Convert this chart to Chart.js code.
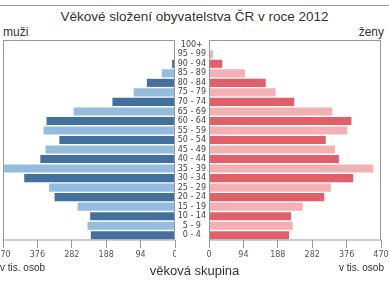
<!DOCTYPE html>
<html>
<head>
<meta charset="utf-8">
<script src="https://cdn.jsdelivr.net/npm/chart.js@4"></script>
<style>
  body { margin: 0; background: #fff; }
  #wrap { position: relative; width: 389px; height: 282px; overflow: hidden;
          font-family: "Liberation Sans", Arial, sans-serif; color: #333; }
  .t { position: absolute; white-space: nowrap; }
  canvas { position: absolute; top: 0; }
</style>
</head>
<body>
<div id="wrap">
  <div style="position:absolute;left:0;top:5px;width:389px;border-top:1px solid #999"></div>
  <div class="t" style="left:0;width:389px;text-align:center;top:9px;font-size:13.5px">Věkové složení obyvatelstva ČR v roce 2012</div>
  <div class="t" style="left:3px;top:25px;font-size:12px">muži</div>
  <div class="t" style="right:5px;top:25px;font-size:12px">ženy</div>
  <canvas id="men" width="176" height="264" style="left:0"></canvas>
  <canvas id="women" width="229" height="264" style="left:160px"></canvas>
  <div class="t" style="left:0;top:262px;font-size:10px">v tis. osob</div>
  <div class="t" style="right:5px;top:262px;font-size:10px">v tis. osob</div>
  <div class="t" style="left:0;width:389px;text-align:center;top:263px;font-size:13px">věková skupina</div>
</div>
<script>
// age groups from youngest (bottom) to oldest (top)
const ageGroups = ['0 - 4', '5 - 9', '10 - 14', '15 - 19', '20 - 24', '25 - 29', '30 - 34',
  '35 - 39', '40 - 44', '45 - 49', '50 - 54', '55 - 59', '60 - 64', '65 - 69', '70 - 74',
  '75 - 79', '80 - 84', '85 - 89', '90 - 94', '95 - 99', '100+'];

// thousands of people
const men = [230, 239, 232, 266, 329, 344, 412, 467, 368, 354, 316, 359, 351, 277, 171,
  113, 77, 36, 8, 2, 0];
const women = [219, 229, 224, 256, 315, 333, 394, 449, 355, 344, 319, 378, 389, 337, 233,
  182, 155, 98, 36, 11, 1];

const xTicks = [0, 94, 188, 282, 376, 470];

const menColors = ageGroups.map((g, i) => i % 2 === 0 ? '#44709d' : '#93bcdf');
const womenColors = ageGroups.map((g, i) => i % 2 === 0 ? '#df6068' : '#f3b1b4');

const tickFont = { family: 'DejaVu Sans', size: 8 };

const frame = {
  id: 'frame',
  afterDatasetsDraw(chart) {
    const a = chart.chartArea, c = chart.ctx;
    c.save();
    c.strokeStyle = '#999';
    c.lineWidth = 1;
    c.strokeRect(Math.round(a.left) + 0.5, Math.round(a.top) + 0.5,
      Math.round(a.right - a.left) - 1, Math.round(a.bottom - a.top) - 0.5);
    c.restore();
  }
};

function noPad(scale) {
  scale.paddingLeft = 0; scale.paddingRight = 0;
  scale.paddingTop = 0; scale.paddingBottom = 0;
}

function xAxis(reverse) {
  return {
    type: 'linear',
    reverse: reverse,
    min: 0,
    max: 470,
    afterBuildTicks: (s) => { s.ticks = xTicks.map(v => ({ value: v })); },
    afterFit: (s) => { s.height = 24; noPad(s); },
    border: { display: false },
    grid: { drawOnChartArea: false, drawTicks: true, tickLength: 8, color: '#999' },
    ticks: { font: tickFont, color: '#555', padding: 2, maxRotation: 0, autoSkip: false }
  };
}

Chart.defaults.animation = false;

new Chart(document.getElementById('men'), {
  type: 'bar',
  data: {
    labels: ageGroups,
    datasets: [{
      data: men,
      backgroundColor: menColors,
      barPercentage: 0.85,
      categoryPercentage: 1
    }]
  },
  options: {
    responsive: false,
    indexAxis: 'y',
    layout: { padding: { left: 3, right: 1, top: 40, bottom: 0 } },
    plugins: { legend: { display: false }, tooltip: { enabled: false } },
    scales: {
      x: xAxis(true),
      y: { reverse: true, display: false }
    }
  },
  plugins: [frame]
});

new Chart(document.getElementById('women'), {
  type: 'bar',
  data: {
    labels: ageGroups,
    datasets: [{
      data: women,
      backgroundColor: womenColors,
      barPercentage: 0.85,
      categoryPercentage: 1
    }]
  },
  options: {
    responsive: false,
    indexAxis: 'y',
    layout: { padding: { left: 0, right: 8, top: 40, bottom: 0 } },
    plugins: { legend: { display: false }, tooltip: { enabled: false } },
    scales: {
      x: xAxis(false),
      y: {
        reverse: true,
        position: 'left',
        afterFit: (s) => { s.width = 49; noPad(s); },
        border: { display: false },
        grid: { display: false, drawTicks: false, tickLength: 0 },
        ticks: { font: tickFont, color: '#444', padding: 3, crossAlign: 'center', autoSkip: false }
      }
    }
  },
  plugins: [frame]
});
</script>
</body>
</html>
